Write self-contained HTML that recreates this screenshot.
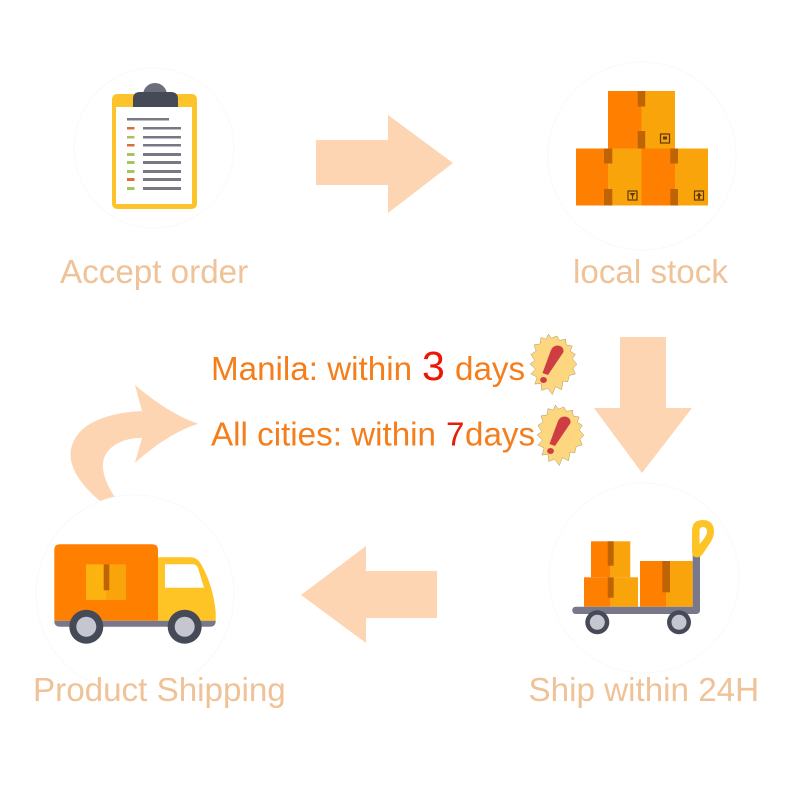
<!DOCTYPE html>
<html><head><meta charset="utf-8"><style>
html,body{margin:0;padding:0;background:#fff;width:800px;height:800px;overflow:hidden}
svg{display:block;filter:blur(.35px)}
text{font-family:"Liberation Sans",sans-serif}
</style></head><body>
<svg width="800" height="800" viewBox="0 0 800 800" xmlns="http://www.w3.org/2000/svg">
<rect width="800" height="800" fill="#fff"/>
<!-- circles -->
<g fill="#fff" stroke="#f9f9f6" stroke-width="1">
<circle cx="154" cy="148" r="80"/>
<circle cx="642" cy="156" r="94"/>
<circle cx="644" cy="578" r="95"/>
</g>
<!-- arrows -->
<g fill="#fdd5b2">
<polygon points="316,140 388,140 388,115 453,163 388,213 388,185 316,185"/>
<polygon points="620,337 666,337 666,408 692,408 642,473 594,408 620,408"/>
<polygon points="437,571 366,571 366,546 301,595 366,643 366,618 437,618"/>
<path d="M198,423.7 C176,416 155,402 135,385 L142,411 C122,412 100,416 84,428 C72,438 68,452 72,464 C76,478 88,491 100,501 L115,497 C108,487 102,474 103,463 C105,447 122,438 142,437.7 L135,462.7 C155,445 176,431 198,423.7Z"/>
</g>
<circle cx="135" cy="594" r="99" fill="#fff" stroke="#f9f9f6"/>
<!-- clipboard -->
<rect x="112" y="94" width="85" height="115" rx="5" fill="#fcc42a"/>
<rect x="116" y="107" width="76" height="97" fill="#fff"/>
<circle cx="155" cy="95" r="12" fill="#6c6e7a"/>
<path d="M133,107 V99 Q133,92 140,92 H171 Q178,92 178,99 V107Z" fill="#454a56"/>
<rect x="127" y="118" width="42" height="2.5" fill="#7a7a86"/>
<g fill="#787884">
<rect x="143" y="127" width="38" height="2.5"/><rect x="143" y="136" width="38" height="2.5"/><rect x="143" y="144" width="38" height="2.5"/>
<rect x="143" y="153" width="38" height="3"/><rect x="143" y="161" width="38" height="3"/><rect x="143" y="170" width="38" height="3"/><rect x="143" y="178" width="38" height="3"/><rect x="143" y="187" width="38" height="3"/>
</g>
<g fill="#d9703a">
<rect x="127" y="127" width="7.5" height="2.5"/><rect x="127" y="144" width="7.5" height="2.5"/><rect x="127" y="178" width="7.5" height="3"/>
</g>
<g fill="#a3c45e">
<rect x="127" y="136" width="7.5" height="2.5"/><rect x="127" y="153" width="7.5" height="3"/><rect x="127" y="161" width="7.5" height="3"/><rect x="127" y="170" width="7.5" height="3"/><rect x="127" y="187" width="7.5" height="3"/>
</g>
<!-- stock boxes -->
<rect x="608" y="91" width="33.5" height="57.5" fill="#ff8000"/><rect x="641.5" y="91" width="33.5" height="57.5" fill="#f9a40a"/>
<rect x="576" y="148.5" width="32" height="57" fill="#ff8000"/><rect x="608" y="148.5" width="33.5" height="57" fill="#f9a40a"/>
<rect x="641.5" y="148.5" width="33.5" height="57" fill="#ff8000"/><rect x="675" y="148.5" width="33" height="57" fill="#f9a40a"/>
<g fill="#bf6404">
<rect x="637.7" y="91" width="7.5" height="15.5"/><rect x="637.7" y="131" width="7.5" height="17.5"/>
<rect x="604" y="148.5" width="8.3" height="15"/><rect x="604" y="189" width="8.3" height="16.5"/>
<rect x="670.3" y="148.5" width="7.7" height="15"/><rect x="670.3" y="189" width="7.7" height="16.5"/>
</g>
<g fill="none" stroke="#5c3a0a" stroke-width="1.2">
<rect x="660.5" y="134" width="9" height="9"/><rect x="628" y="191" width="9" height="9"/><rect x="694.5" y="191" width="9" height="9"/>
</g>
<g fill="#5c3a0a">
<rect x="663" y="136.5" width="4" height="3"/><polygon points="629.5,193 635.5,193 633,196 633,199 632,199 632,196"/><polygon points="699,192.5 702,196 700,196 700,199 698,199 698,196 696,196"/>
</g>
<!-- truck -->
<path d="M158,557.3 H190 Q197,557.3 201,564 Q213,585 215.7,612 V620.7 H158Z" fill="#fec425"/>
<path d="M165,564.3 H193 Q196,564.3 198,568 L204,587.7 H165Z" fill="#fff"/>
<path d="M54.3,620.7 V550 Q54.3,544.3 60,544.3 H152 Q158,544.3 158,550 V620.7Z" fill="#ff8000"/>
<rect x="86" y="564.3" width="20" height="35.7" fill="#fcb20f"/><rect x="106" y="564.3" width="20" height="35.7" fill="#f9a40a"/>
<rect x="103.7" y="564.3" width="5.6" height="26" fill="#bf6404"/>
<path d="M54.3,620.7 H215.7 Q215.7,626.7 210,626.7 H60 Q54.3,626.7 54.3,620.7Z" fill="#78788a"/>
<circle cx="86.3" cy="626.7" r="17" fill="#454a56"/><circle cx="86.3" cy="626.7" r="10" fill="#c6c6d0"/>
<circle cx="184.7" cy="626.7" r="17" fill="#454a56"/><circle cx="184.7" cy="626.7" r="10" fill="#c6c6d0"/>
<!-- cart -->
<rect x="591" y="541.3" width="19.7" height="36" fill="#ff8000"/><rect x="610.7" y="541.3" width="19.6" height="36" fill="#f9a40a"/>
<rect x="584" y="577.3" width="26.7" height="29.4" fill="#ff8000"/><rect x="610.7" y="577.3" width="27.3" height="29.4" fill="#f9a40a"/>
<rect x="640" y="561" width="26" height="45.7" fill="#ff8000"/><rect x="666" y="561" width="26.7" height="45.7" fill="#f9a40a"/>
<g fill="#bf6404">
<rect x="607.7" y="541.3" width="6" height="24.4"/><rect x="607.7" y="577.3" width="6" height="20.4"/><rect x="662.3" y="561" width="7.7" height="31.3"/>
</g>
<path d="M692.7,553 H700 V610 Q700,614 696,614 H576 Q572.3,614 572.3,610.3 Q572.3,606.7 576,606.7 H692.7Z" fill="#78788a"/>
<path fill-rule="evenodd" d="M692,531 Q692,520 703,520 Q714,520 714,532 Q714,538 708,546 Q703,554 701,556 Q698,558 695,557 Q692,556 692,551Z M699.5,531 L699.5,544 Q707,536 707,532 Q707,527 703,527 Q699.5,527 699.5,531Z" fill="#fec425"/>
<circle cx="597.3" cy="622.3" r="12" fill="#454a56"/><circle cx="597.3" cy="622.3" r="7.5" fill="#c6c6d0"/>
<circle cx="679" cy="622.3" r="12" fill="#454a56"/><circle cx="679" cy="622.3" r="7.5" fill="#c6c6d0"/>
<!-- labels -->
<g fill="#efc297" font-size="33.2">
<text x="60" y="283">Accept order</text>
<text x="573" y="283">local stock</text>
<text x="33" y="701">Product Shipping</text>
<text x="528.5" y="701">Ship within 24H</text>
</g>
<g fill="#f57e1c" font-size="33.2">
<text x="211" y="380">Manila: within</text>
<text x="455" y="380">days</text>
<text x="211" y="445.7">All cities: within</text>
<text x="465" y="445.7">days</text>
</g>
<text x="422" y="380" font-size="41" fill="#ee1505">3</text>
<text x="446" y="445.7" font-size="33.2" fill="#e81a08">7</text>
<!-- badges -->
<g>
<polygon transform="translate(526.3,332.8) scale(.92,.95)" fill="#fdd77f" stroke="#a8925a" stroke-width=".5" points="24,1.3 27.3,5.7 33.3,3.3 36,8 42.7,6.7 43.3,12.7 50,14 47.7,19.3 53.3,22.7 50,27.3 55,33.3 50.7,37.3 53.3,43.3 46.7,45 45,51.7 40,50.7 38.3,60 31.7,56.7 28.3,65 23.3,58.3 16.7,60.7 16,53.3 9.3,54 11.7,46.7 5,43.3 10,38.3 4,32.7 9.3,29.3 5,22.7 10.7,19.3 8.3,12.7 15,11.7 16,5 21.7,6.7"/>
<path d="M551,350 Q553,345.5 558,345.5 Q564,346.5 563.5,352 L548,375 L542.5,373Z" fill="#ce3d42"/>
<ellipse cx="543.5" cy="380" rx="3.4" ry="3" fill="#ce3d42"/>
</g>
<g transform="translate(7,71)">
<polygon transform="translate(526.3,332.8) scale(.92,.95)" fill="#fdd77f" stroke="#a8925a" stroke-width=".5" points="24,1.3 27.3,5.7 33.3,3.3 36,8 42.7,6.7 43.3,12.7 50,14 47.7,19.3 53.3,22.7 50,27.3 55,33.3 50.7,37.3 53.3,43.3 46.7,45 45,51.7 40,50.7 38.3,60 31.7,56.7 28.3,65 23.3,58.3 16.7,60.7 16,53.3 9.3,54 11.7,46.7 5,43.3 10,38.3 4,32.7 9.3,29.3 5,22.7 10.7,19.3 8.3,12.7 15,11.7 16,5 21.7,6.7"/>
<path d="M551,350 Q553,345.5 558,345.5 Q564,346.5 563.5,352 L548,375 L542.5,373Z" fill="#ce3d42"/>
<ellipse cx="543.5" cy="380" rx="3.4" ry="3" fill="#ce3d42"/>
</g>
</svg>
</body></html>
